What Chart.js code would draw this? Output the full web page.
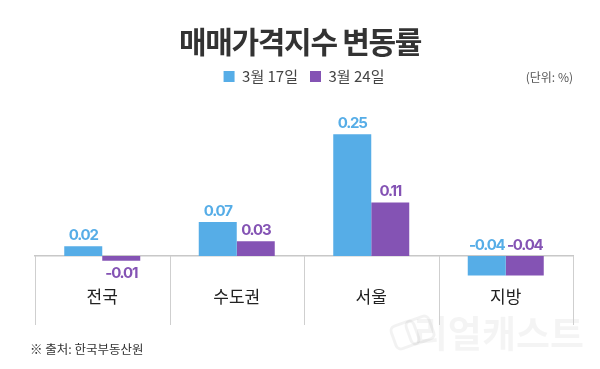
<!DOCTYPE html>
<html>
<head>
<meta charset="utf-8">
<script src="https://cdn.jsdelivr.net/npm/chart.js@4"></script>
<style>
  html, body { margin: 0; padding: 0; background: #fff; }
  #wrap { width: 600px; height: 369px; position: relative; }
</style>
</head>
<body>
<div id="wrap"><canvas id="priceChart"></canvas></div>
<script>
// ─── Data ────────────────────────────────────────────────────────────────────
const categories = ['전국', '수도권', '서울', '지방'];
const seriesNames = ['3월 17일', '3월 24일'];
const march17 = [0.02, 0.07, 0.25, -0.04];
const march24 = [-0.01, 0.03, 0.11, -0.04];

const colors = ['#56ade7', '#8453b4'];
const FONT = '"Noto Sans CJK KR", "Noto Sans", sans-serif';

// ─── Plugins ─────────────────────────────────────────────────────────────────

/** Title, unit note, source note and watermark. */
const decorations = {
  id: 'decorations',
  beforeDraw(chart) {
    const { ctx, width } = chart;
    ctx.save();
    // watermark (logo + name, very faint)
    ctx.strokeStyle = 'rgba(0,0,0,0.05)';
    ctx.lineWidth = 3;
    [[405, 335, -0.35], [420, 330, -0.35]].forEach(([cx, cy, a]) => {
      ctx.save();
      ctx.translate(cx, cy);
      ctx.rotate(a);
      ctx.beginPath();
      ctx.roundRect(-12, -12, 24, 24, 5);
      ctx.stroke();
      ctx.restore();
    });
    ctx.fillStyle = 'rgba(0,0,0,0.045)';
    ctx.font = `bold 37px ${FONT}`;
    ctx.textAlign = 'right';
    ctx.textBaseline = 'middle';
    ctx.fillText('리얼캐스트', 584, 334);

    ctx.fillStyle = '#333';
    ctx.font = `bold 30px ${FONT}`;
    ctx.letterSpacing = '-1.3px';
    ctx.textAlign = 'center';
    ctx.fillText('매매가격지수 변동률', width / 2, 42);

    ctx.letterSpacing = '0px';
    ctx.fillStyle = '#555';
    ctx.font = `12px ${FONT}`;
    ctx.textAlign = 'right';
    ctx.fillText('(단위: %)', 573, 77);

    ctx.fillStyle = '#333';
    ctx.font = `12.5px ${FONT}`;
    ctx.textAlign = 'left';
    ctx.fillText('※ 출처: 한국부동산원', 30, 349);
    ctx.restore();
  },
  afterDraw(chart) {
    // category dividers below the zero line
    const { ctx, chartArea, scales: { x, y } } = chart;
    const y0 = y.getPixelForValue(0);
    const xs = [chartArea.left];
    for (let i = 1; i < categories.length; i++) {
      xs.push((x.getPixelForValue(i - 1) + x.getPixelForValue(i)) / 2);
    }
    xs.push(chartArea.right);
    ctx.save();
    ctx.strokeStyle = '#cfcfcf';
    ctx.lineWidth = 1;
    xs.forEach((px) => {
      const p = Math.round(px) + 0.5;
      ctx.beginPath();
      ctx.moveTo(p, y0);
      ctx.lineTo(p, chartArea.bottom);
      ctx.stroke();
    });
    ctx.restore();
  },
};

/** Value labels on the bars. */
const valueLabels = {
  id: 'valueLabels',
  afterDatasetsDraw(chart) {
    const { ctx } = chart;
    ctx.save();
    ctx.font = `bold 15px Inter, ${FONT}`;
    ctx.letterSpacing = '-1.2px';
    ctx.textAlign = 'center';
    chart.data.datasets.forEach((ds, i) => {
      const meta = chart.getDatasetMeta(i);
      ctx.fillStyle = colors[i];
      meta.data.forEach((bar, j) => {
        const v = ds.data[j];
        const txt = v.toFixed(2);
        if (v >= 0) {
          ctx.textBaseline = 'bottom';
          ctx.fillText(txt, bar.x, bar.y - 3);
        } else if (bar.y - bar.base > 15) {
          ctx.textBaseline = 'bottom';
          ctx.fillText(txt, bar.x, bar.base - 3);
        } else {
          ctx.textBaseline = 'top';
          ctx.fillText(txt, bar.x, bar.y + 5);
        }
      });
    });
    ctx.restore();
  },
};

// ─── Chart ───────────────────────────────────────────────────────────────────
new Chart(document.getElementById('priceChart'), {
  type: 'bar',
  data: {
    labels: categories,
    datasets: [
      { label: seriesNames[0], data: march17, backgroundColor: colors[0], borderWidth: 0 },
      { label: seriesNames[1], data: march24, backgroundColor: colors[1], borderWidth: 0 },
    ],
  },
  options: {
    responsive: true,
    maintainAspectRatio: false,
    animation: false,
    layout: { padding: { top: 57, bottom: 44, left: 35, right: 27 } },
    plugins: {
      title: { display: false },
      tooltip: { enabled: false },
      legend: {
        position: 'top',
        labels: {
          boxWidth: 11,
          boxHeight: 11,
          padding: 12,
          color: '#444',
          font: { family: FONT, size: 15 },
        },
      },
    },
    datasets: { bar: { barPercentage: 1, categoryPercentage: 0.565 } },
    scales: {
      x: {
        position: { y: 0 },
        grid: { display: false, drawTicks: false },
        border: { display: true, color: '#c8c8c8', width: 1.5 },
        ticks: { color: '#222', padding: 30, font: { family: FONT, size: 17 } },
      },
      y: {
        display: false,
        min: -0.142,
        max: 0.333,
      },
    },
  },
  plugins: [decorations, valueLabels],
});
</script>
</body>
</html>
